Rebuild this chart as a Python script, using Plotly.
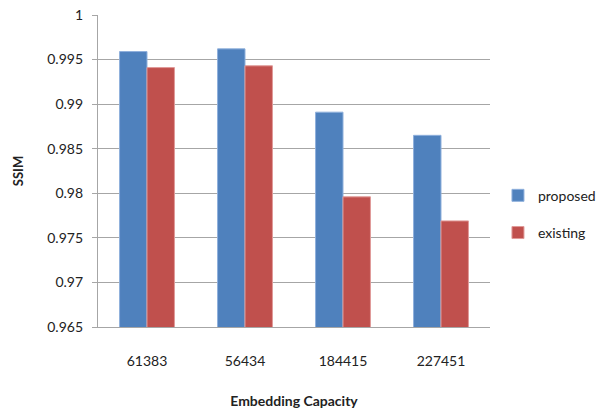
import plotly.graph_objects as go

categories = ["61383", "56434", "184415", "227451"]
proposed = [0.9959, 0.9962, 0.9891, 0.9865]
existing = [0.9941, 0.9943, 0.9796, 0.9769]
y_ticks = [0.965, 0.97, 0.975, 0.98, 0.985, 0.99, 0.995, 1]
y_tick_labels = ["0.965", "0.97", "0.975", "0.98", "0.985", "0.99", "0.995", "1"]

FONT = "Lato, 'Open Sans', sans-serif"

fig = go.Figure()
fig.add_trace(go.Bar(x=categories, y=proposed, name="proposed", legendgroup="a",
                     marker=dict(color="#4F81BD", line=dict(color="#8fb0dc", width=1))))
fig.add_trace(go.Bar(x=categories, y=existing, name="existing", legendgroup="b",
                     marker=dict(color="#C0504D", line=dict(color="#e09a98", width=1))))

fig.update_layout(
    width=611, height=412,
    margin=dict(l=98, r=121, t=15, b=85, autoexpand=False),
    paper_bgcolor="white", plot_bgcolor="white",
    barmode="group", bargap=0.44, bargroupgap=0,
    font=dict(family=FONT, size=12, color="#222"),
    legend=dict(xref="container", yref="container", x=0.815, y=0.48,
                xanchor="left", yanchor="middle",
                font=dict(size=14, color="#222"), tracegroupgap=16,
                itemwidth=30, traceorder="grouped"),
    xaxis=dict(
        automargin=False,
        showline=True, linecolor="#a6a6a6", linewidth=1.3,
        ticks="", tickfont=dict(size=14), ticklabelstandoff=21,
        title=dict(text="<b>Embedding Capacity</b>", font=dict(size=14), standoff=28),
    ),
    yaxis=dict(
        automargin=False,
        range=[0.965, 1], tickvals=y_ticks, ticktext=y_tick_labels,
        showgrid=True, gridcolor="#a6a6a6", gridwidth=1.3,
        showline=True, linecolor="#a6a6a6", linewidth=1.3,
        ticks="outside", ticklen=5, tickcolor="#a6a6a6",
        tickfont=dict(size=14), ticklabelstandoff=6,
        zeroline=False,
        title=dict(text="<b>SSIM</b>", font=dict(size=13), standoff=20),
    ),
)

fig.write_html("out.html")
